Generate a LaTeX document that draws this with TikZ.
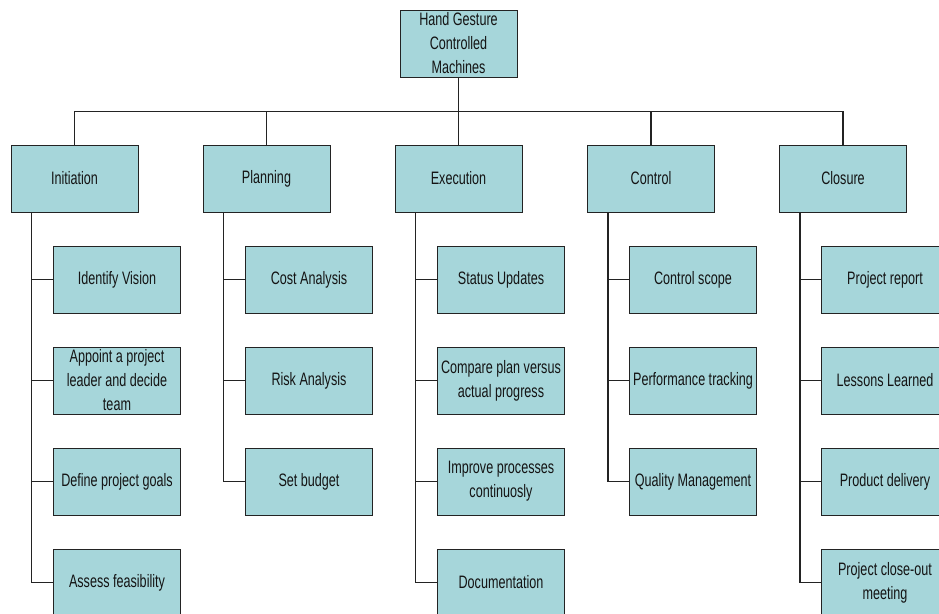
\documentclass[tikz,border=0pt]{standalone}
\usepackage{fontspec}
\setmainfont[FakeStretch=0.7]{Liberation Sans}
\definecolor{boxfill}{RGB}{166,214,218}
\definecolor{edgec}{RGB}{35,35,35}
\begin{document}
\begin{tikzpicture}[x=1pt,y=1pt,
  wbox/.style={rectangle, draw=edgec, line width=1pt, fill=boxfill,
    minimum width=127pt, minimum height=67pt, inner sep=0pt, align=center,
    font=\fontsize{18}{24}\selectfont, text=black!92},
  conn/.style={draw=edgec, line width=1.1pt}]
\useasboundingbox (0,0) rectangle (939,-613);
\clip (0,0) rectangle (939,-613);
\fill[white] (0,0) rectangle (939,-613);

\node[wbox, minimum width=117pt] (root) at (458.5,-43.5) {Hand Gesture\\Controlled\\Machines};

\node[wbox] (ini) at (74.5,-178.5) {Initiation};
\node[wbox] (pla) at (266.5,-178.5) {Planning};
\node[wbox] (exe) at (458.5,-178.5) {Execution};
\node[wbox] (con) at (651,-178.5) {Control};
\node[wbox] (clo) at (843,-178.5) {Closure};

\node[wbox] (ini1) at (117,-279.5) {Identify Vision};
\node[wbox] (ini2) at (117,-380.5) {Appoint a project\\leader and decide\\team};
\node[wbox] (ini3) at (117,-481.5) {Define project goals};
\node[wbox] (ini4) at (117,-582.5) {Assess feasibility};

\node[wbox] (pla1) at (309,-279.5) {Cost Analysis};
\node[wbox] (pla2) at (309,-380.5) {Risk Analysis};
\node[wbox] (pla3) at (309,-481.5) {Set budget};

\node[wbox] (exe1) at (501,-279.5) {Status Updates};
\node[wbox] (exe2) at (501,-380.5) {Compare plan versus\\actual progress};
\node[wbox] (exe3) at (501,-481.5) {Improve processes\\continuosly};
\node[wbox] (exe4) at (501,-582.5) {Documentation};

\node[wbox] (con1) at (693,-279.5) {Control scope};
\node[wbox] (con2) at (693,-380.5) {Performance tracking};
\node[wbox] (con3) at (693,-481.5) {Quality Management};

\node[wbox] (clo1) at (885,-279.5) {Project report};
\node[wbox] (clo2) at (885,-380.5) {Lessons Learned};
\node[wbox] (clo3) at (885,-481.5) {Product delivery};
\node[wbox] (clo4) at (885,-582.5) {Project close-out\\meeting};

\coordinate (bus) at ([yshift=-34pt]root.south);
\draw[conn] (root.south) -- (bus);
\foreach \n in {ini,pla,exe,con,clo} \draw[conn] (bus) -| (\n.north);

\foreach \p/\cs in {ini/{ini1,ini2,ini3,ini4}, pla/{pla1,pla2,pla3}, exe/{exe1,exe2,exe3,exe4}, con/{con1,con2,con3}, clo/{clo1,clo2,clo3,clo4}}{
  \foreach \c in \cs \draw[conn] ([xshift=21pt]\p.south west) |- (\c.west);
}
\end{tikzpicture}
\end{document}
